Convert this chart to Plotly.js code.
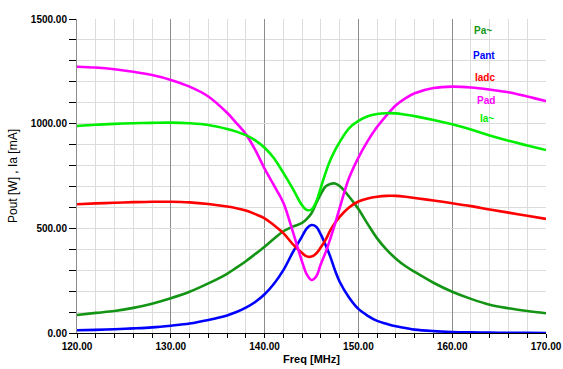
<!DOCTYPE html>
<html>
<head>
<meta charset="utf-8">
<script src="https://cdn.plot.ly/plotly-3.0.1.min.js"></script>
<style>html,body{margin:0;padding:0;background:#fff;}#chart{width:563px;height:369px;}</style>
</head>
<body>
<div id="chart"></div>
<script>
const freq = [120,122,124,126,128,130,132,134,136,137,138,139,140,141,142,143,144,144.5,145,145.5,146,146.5,147,147.5,148,149,150,151,152,153,154,155,156,158,160,162,164,166,168,170];
const paAc = [86,96,105,120,140,166,197,237,283,312,343,377,412,450,486,508,526,545,572,620,665,700,712,714,702,652,592,520,452,398,355,320,292,240,197,163,135,118,105,94];
const pant = [13,15,18,22,27,35,45,62,84,100,121,148,185,235,300,385,462,500,516,508,470,420,365,300,245,170,115,82,58,44,32,24,16,9,5,3,2,1,1,0];
const iadc = [615,619,622,625,627,627,624,616,604,596,585,568,548,515,477,425,382,366,365,380,410,445,490,525,555,600,628,643,651,655,655,651,645,633,620,606,590,575,560,545];
const pad  = [1272,1268,1260,1248,1232,1209,1177,1130,1052,1003,950,875,785,705,622,485,340,280,253,270,330,385,450,520,597,740,838,918,985,1040,1088,1121,1145,1170,1177,1173,1163,1150,1130,1108];
const iaAc = [989,995,999,1002,1004,1005,1002,994,975,962,945,920,885,835,765,690,610,588,590,627,695,765,825,872,912,978,1013,1035,1046,1050,1049,1043,1036,1018,997,972,943,918,896,874];

const seriesNames = ['Pa~','Pant','Iadc','Pad','Ia~'];
const seriesData = [paAc, pant, iadc, pad, iaAc];
const colors = ['#149414','#0000ff','#ff0000','#ff00ff','#00ee00'];

const traces = seriesData.map((ys, i) => ({
  x: freq, y: ys, type: 'scatter', mode: 'lines', name: seriesNames[i],
  line: {color: colors[i], width: 2.6, shape: 'spline', smoothing: 1},
  hoverinfo: 'skip'
}));

const labelPos = [[163.3,1443],[163.4,1328],[163.5,1220],[163.6,1113],[163.7,1025]];
const annotations = seriesNames.map((n, i) => ({
  x: labelPos[i][0], y: labelPos[i][1], xref: 'x', yref: 'y', text: '<b>' + n + '</b>',
  showarrow: false, font: {family: 'Liberation Sans, Arial, sans-serif', size: 10, color: colors[i]}
}));

const tickFont = {family: 'Liberation Sans, Arial, sans-serif', size: 10, color: '#000', weight: 'bold'};

const layout = {
  width: 563, height: 369,
  margin: {l: 77, r: 17, t: 19, b: 36},
  paper_bgcolor: '#fff', plot_bgcolor: '#fff',
  showlegend: false,
  font: {family: 'Liberation Sans, Arial, sans-serif', color: '#000'},
  xaxis: {
    range: [120, 170], tick0: 120, dtick: 10, tickformat: '.2f',
    ticks: 'outside', ticklen: 4, tickcolor: '#000', tickfont: tickFont,
    showgrid: true, gridcolor: '#8c8c8c', gridwidth: 1,
    showline: true, linecolor: '#000', linewidth: 1, zeroline: false,
    minor: {dtick: 2, ticks: 'outside', ticklen: 4, tickcolor: '#000', showgrid: true, gridcolor: '#dcdcdc', gridwidth: 1},
    title: {text: '<b>Freq [MHz]</b>', font: {size: 11, color: '#000'}, standoff: 4}
  },
  yaxis: {
    range: [0, 1500], tick0: 0, dtick: 500, tickformat: '.2f',
    ticks: 'outside', ticklen: 7, tickcolor: '#000', tickfont: tickFont,
    showgrid: true, gridcolor: '#dcdcdc', gridwidth: 1,
    showline: true, linecolor: '#8c8c8c', linewidth: 1, zeroline: false,
    minor: {dtick: 100, ticks: 'outside', ticklen: 7, tickcolor: '#000', showgrid: true, gridcolor: '#dcdcdc', gridwidth: 1},
    title: {text: 'Pout [W] , Ia [mA]', font: {size: 12, color: '#000'}, standoff: 10}
  },
  annotations: annotations
};

Plotly.newPlot('chart', traces, layout, {staticPlot: true, displayModeBar: false});
</script>
</body>
</html>
